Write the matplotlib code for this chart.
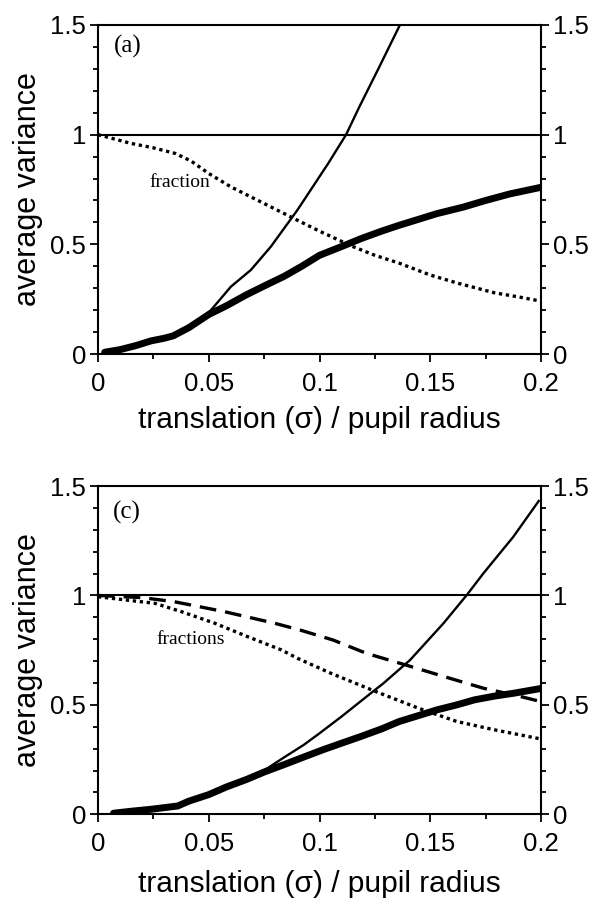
import matplotlib
matplotlib.use("Agg")
import matplotlib.pyplot as plt
from matplotlib.ticker import MultipleLocator, FuncFormatter

# ---------------- data ----------------
# panel (a)
a_thick_x = [0.003, 0.01, 0.017, 0.024, 0.03, 0.034, 0.041, 0.05, 0.058, 0.067, 0.075, 0.084,
             0.092, 0.1, 0.11, 0.119, 0.128, 0.136, 0.145, 0.153, 0.165, 0.175, 0.186, 0.2]
a_thick_y = [0.008, 0.02, 0.038, 0.06, 0.072, 0.083, 0.12, 0.18, 0.22, 0.27, 0.31, 0.354,
             0.40, 0.45, 0.49, 0.527, 0.56, 0.587, 0.615, 0.64, 0.67, 0.70, 0.73, 0.76]
a_thin_x = [0.003, 0.02, 0.035, 0.045, 0.051, 0.060, 0.069, 0.078, 0.090, 0.094, 0.104,
            0.112, 0.118, 0.127, 0.1363, 0.145]
a_thin_y = [0.008, 0.04, 0.085, 0.15, 0.2, 0.307, 0.383, 0.489, 0.656, 0.717, 0.87,
            1.0, 1.127, 1.309, 1.5, 1.68]
a_frac_x = [0, 0.015, 0.025, 0.035, 0.042, 0.05, 0.06, 0.075, 0.09, 0.1, 0.115, 0.125,
            0.136, 0.15, 0.162, 0.179, 0.19, 0.2]
a_frac_y = [1.0, 0.96, 0.94, 0.914, 0.88, 0.823, 0.762, 0.686, 0.61, 0.56, 0.49, 0.45,
            0.414, 0.36, 0.324, 0.279, 0.26, 0.241]

# panel (c)
c_thick_x = [0.007, 0.015, 0.024, 0.036, 0.041, 0.05, 0.058, 0.067, 0.075, 0.084, 0.093,
             0.1016, 0.11, 0.1188, 0.128, 0.136, 0.145, 0.153, 0.162, 0.170, 0.179, 0.1876, 0.2]
c_thick_y = [0.005, 0.014, 0.023, 0.038, 0.06, 0.09, 0.125, 0.159, 0.193, 0.227, 0.262,
             0.295, 0.325, 0.356, 0.39, 0.424, 0.452, 0.477, 0.50, 0.523, 0.54, 0.553, 0.575]
c_thin_x = [0.007, 0.024, 0.036, 0.05, 0.067, 0.0757, 0.084, 0.093, 0.10, 0.110, 0.124,
            0.1288, 0.1409, 0.156, 0.1665, 0.174, 0.1875, 0.1993]
c_thin_y = [0.005, 0.023, 0.038, 0.09, 0.159, 0.205, 0.26, 0.318, 0.37, 0.447, 0.56,
            0.598, 0.705, 0.873, 1.002, 1.101, 1.268, 1.436]
c_frac1_x = [0, 0.0256, 0.0376, 0.0527, 0.0677, 0.0828, 0.090, 0.105, 0.1256, 0.1446,
             0.162, 0.179, 0.2]
c_frac1_y = [0.994, 0.964, 0.926, 0.873, 0.811, 0.751, 0.713, 0.645, 0.56, 0.485,
             0.424, 0.386, 0.344]
c_frac2_x = [0, 0.02, 0.0346, 0.057, 0.0797, 0.0912, 0.1062, 0.1213, 0.139, 0.159,
             0.174, 0.19, 0.2]
c_frac2_y = [1.0, 0.99, 0.971, 0.926, 0.873, 0.842, 0.796, 0.735, 0.682, 0.621,
             0.576, 0.54, 0.515]

reference_level = 1.0
panel_labels = ["(a)", "(c)"]
annotations = ["fraction", "fractions"]
xlabel = "translation (\u03c3) / pupil radius"
ylabel = "average variance"

# ---------------- figure ----------------
plt.rcParams['font.family'] = ['Liberation Sans', 'DejaVu Sans']
fig = plt.figure(figsize=(5.95, 9.01), dpi=100)

L, R = 98 / 595, 541 / 595
axa = fig.add_axes([L, 1 - 354 / 901, R - L, (354 - 25) / 901])
axc = fig.add_axes([L, 1 - 814.3 / 901, R - L, (814.3 - 486) / 901])


def fmt(v, pos):
    return f"{v:g}"


def style(ax):
    ax.set_xlim(0, 0.2)
    ax.set_ylim(0, 1.5)
    for sp in ax.spines.values():
        sp.set_linewidth(1.5)
    ax.xaxis.set_major_locator(MultipleLocator(0.05))
    ax.xaxis.set_minor_locator(MultipleLocator(0.025))
    ax.yaxis.set_major_locator(MultipleLocator(0.5))
    ax.yaxis.set_minor_locator(MultipleLocator(0.1))
    ax.xaxis.set_major_formatter(FuncFormatter(fmt))
    ax.yaxis.set_major_formatter(FuncFormatter(fmt))
    ax.tick_params(which='both', direction='out', width=1.3, labelsize=18.5,
                   left=True, right=True, labelright=True, top=False, bottom=True)
    ax.tick_params(which='major', length=5.5, pad=3)
    ax.tick_params(axis='x', which='major', pad=7.5)
    ax.tick_params(which='minor', length=3.5)
    ax.axhline(reference_level, color='black', lw=1.5)
    ax.set_ylabel(ylabel, fontsize=22, labelpad=5)


style(axa)
axa.plot(a_thin_x, a_thin_y, color='black', lw=1.7, solid_capstyle='butt')
axa.plot(a_thick_x, a_thick_y, color='black', lw=5.0, solid_capstyle='round')
axa.plot(a_frac_x, a_frac_y, color='black', lw=2.4, linestyle=(0, (1, 1.1)))
axa.text(0.0133, 1.40, panel_labels[0], fontsize=18, family=['Liberation Serif'],
         ha='center', va='center')
axa.text(0.037, 0.78, annotations[0], fontsize=14, family=['Liberation Serif'],
         ha='center', va='center')
axa.set_xlabel(xlabel, fontsize=21.5, labelpad=7)

style(axc)
axc.plot(c_thin_x, c_thin_y, color='black', lw=1.7, solid_capstyle='butt')
axc.plot(c_thick_x, c_thick_y, color='black', lw=5.0, solid_capstyle='round')
axc.plot(c_frac1_x, c_frac1_y, color='black', lw=2.4, linestyle=(0, (1, 1.1)))
axc.plot(c_frac2_x, c_frac2_y, color='black', lw=2.4, linestyle=(0, (5, 2.7)))
axc.text(0.013, 1.381, panel_labels[1], fontsize=18, family=['Liberation Serif'],
         ha='center', va='center')
axc.text(0.042, 0.80, annotations[1], fontsize=14, family=['Liberation Serif'],
         ha='center', va='center')
axc.set_xlabel(xlabel, fontsize=21.5, labelpad=9.5)

fig.savefig("out.png", dpi=100)
